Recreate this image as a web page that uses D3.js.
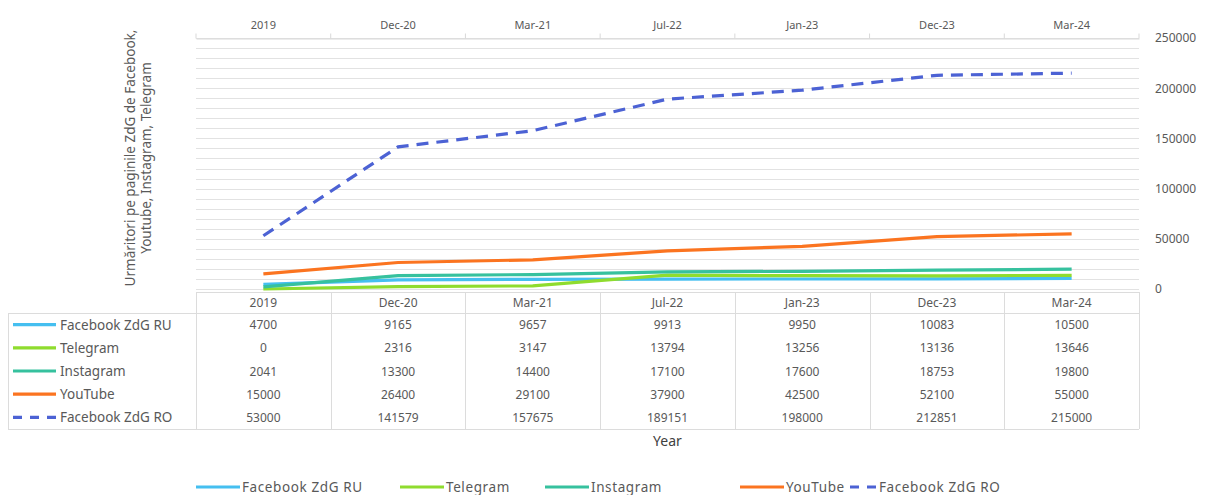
<!DOCTYPE html>
<html>
<head>
<meta charset="utf-8">
<script src="https://cdn.jsdelivr.net/npm/d3@7"></script>
<style>
	body { margin: 0; background: #fff; }
	text { font-family: 'Noto Sans', sans-serif; fill: #595959; }
</style>
</head>
<body>
<div id="chart"></div>
<script>
// data
const periods = ['2019', 'Dec-20', 'Mar-21', 'Jul-22', 'Jan-23', 'Dec-23', 'Mar-24'];
const seriesNames = ['Facebook ZdG RU', 'Telegram', 'Instagram', 'YouTube', 'Facebook ZdG RO'];
const facebookRU = [4700, 9165, 9657, 9913, 9950, 10083, 10500];
const telegram = [0, 2316, 3147, 13794, 13256, 13136, 13646];
const instagram = [2041, 13300, 14400, 17100, 17600, 18753, 19800];
const youtube = [15000, 26400, 29100, 37900, 42500, 52100, 55000];
const facebookRO = [53000, 141579, 157675, 189151, 198000, 212851, 215000];
const yTicks = [0, 50000, 100000, 150000, 200000, 250000];

const seriesValues = [facebookRU, telegram, instagram, youtube, facebookRO];
const colors = ['#45bff0', '#8fdc2e', '#36c19e', '#fb7420', '#4c62d4'];
const dashes = [null, null, null, null, '12,8'];

const svgWidth = 1209, svgHeight = 495;
const plot = { left: 196, right: 1139, top: 38, bottom: 289 };

let svg = d3.select('#chart').append('svg')
	.attr('width', svgWidth)
	.attr('height', svgHeight);

let x = d3.scaleBand()
	.domain(periods)
	.range([plot.left, plot.right]);

let y = d3.scaleLinear()
	.domain([0, 250000])
	.range([plot.bottom, plot.top]);

// gridlines every 10000
let grid = svg.append('g').classed('grid', true);
grid.selectAll('line')
	.data(d3.range(0, 250001, 10000))
	.enter()
	.append('line')
	.attr('x1', plot.left)
	.attr('x2', plot.right)
	.attr('y1', d => Math.round(y(d)) + 0.5)
	.attr('y2', d => Math.round(y(d)) + 0.5)
	.attr('stroke', '#e2e2e2')
	.attr('stroke-width', 1.2);

// top category axis
let axisTop = d3.axisTop(x).tickSize(0).tickPadding(10);
let gTop = svg.append('g')
	.attr('transform', `translate(0, ${plot.top + 0.5})`)
	.call(axisTop);
gTop.select('.domain').attr('stroke', '#d9d9d9');
gTop.selectAll('text')
	.style('font-size', '11px')
	.style('fill', '#595959')
	.style('font-family', "'Noto Sans', sans-serif");
gTop.selectAll('line.edge')
	.data(periods.concat(['end']))
	.enter()
	.append('line')
	.classed('edge', true)
	.attr('x1', (d, i) => i < periods.length ? x(d) : plot.right)
	.attr('x2', (d, i) => i < periods.length ? x(d) : plot.right)
	.attr('y1', 0)
	.attr('y2', -5)
	.attr('stroke', '#d9d9d9');

// right value axis
let axisRight = d3.axisRight(y).tickValues(yTicks).tickSize(0).tickPadding(16).tickFormat(d => d);
let gRight = svg.append('g')
	.attr('transform', `translate(${plot.right}, 0)`)
	.call(axisRight);
gRight.select('.domain').remove();
gRight.selectAll('text')
	.style('font-size', '12px')
	.style('fill', '#595959')
	.style('font-family', "'Noto Sans', sans-serif");

// y title
let yTitle = svg.append('text')
	.attr('transform', `translate(137, 158) rotate(-90)`)
	.attr('text-anchor', 'middle')
	.attr('font-size', '13.5px');
yTitle.append('tspan').attr('x', 0).attr('dy', '-0.15em').text('Urmăritori pe paginile ZdG de Facebook,');
yTitle.append('tspan').attr('x', 0).attr('dy', '1.2em').text('Youtube, Instagram, Telegram');

// lines
let line = d3.line()
	.x((d, i) => x(periods[i]) + x.bandwidth() / 2)
	.y(d => y(d));

svg.append('g').classed('lines', true)
	.selectAll('path')
	.data(seriesValues)
	.enter()
	.append('path')
	.attr('d', d => line(d))
	.attr('fill', 'none')
	.attr('stroke', (d, i) => colors[i])
	.attr('stroke-width', 3.2)
	.attr('stroke-dasharray', (d, i) => dashes[i]);

// data table
const tableTop = 292, headH = 21, rowH = 23.2;
const tableBottom = tableTop + headH + rowH * seriesNames.length;
let table = svg.append('g').classed('table', true);

let edges = periods.map(p => x(p)).concat([plot.right]);
table.selectAll('line.v')
	.data(edges)
	.enter()
	.append('line')
	.classed('v', true)
	.attr('x1', d => Math.round(d) + 0.5)
	.attr('x2', d => Math.round(d) + 0.5)
	.attr('y1', tableTop)
	.attr('y2', tableBottom)
	.attr('stroke', '#dcdcdc');

table.append('line')
	.attr('x1', plot.left).attr('x2', plot.right)
	.attr('y1', tableTop + 0.5).attr('y2', tableTop + 0.5)
	.attr('stroke', '#dcdcdc');
table.append('line')
	.attr('x1', 8).attr('x2', plot.right)
	.attr('y1', tableTop + headH + 0.5).attr('y2', tableTop + headH + 0.5)
	.attr('stroke', '#dcdcdc');
table.append('line')
	.attr('x1', 8).attr('x2', plot.right)
	.attr('y1', tableBottom + 0.5).attr('y2', tableBottom + 0.5)
	.attr('stroke', '#dcdcdc');
table.append('line')
	.attr('x1', 8.5).attr('x2', 8.5)
	.attr('y1', tableTop + headH).attr('y2', tableBottom)
	.attr('stroke', '#dcdcdc');

table.selectAll('text.head')
	.data(periods)
	.enter()
	.append('text')
	.classed('head', true)
	.attr('x', d => x(d) + x.bandwidth() / 2)
	.attr('y', tableTop + headH / 2 + 4.5)
	.attr('text-anchor', 'middle')
	.attr('font-size', '12px')
	.text(d => d);

let rows = table.selectAll('g.row')
	.data(seriesValues)
	.enter()
	.append('g')
	.classed('row', true)
	.attr('transform', (d, i) => `translate(0, ${tableTop + headH + rowH * i + rowH / 2})`);

rows.selectAll('text')
	.data(d => d)
	.enter()
	.append('text')
	.attr('x', (d, i) => x(periods[i]) + x.bandwidth() / 2)
	.attr('y', 4.5)
	.attr('text-anchor', 'middle')
	.attr('font-size', '12px')
	.text(d => d);

rows.append('line')
	.attr('x1', 13).attr('x2', 56)
	.attr('y1', 0).attr('y2', 0)
	.attr('stroke', (d, i) => colors[i])
	.attr('stroke-width', 3.2)
	.attr('stroke-dasharray', (d, i) => dashes[i] ? '9,8' : null);

rows.append('text')
	.attr('x', 60)
	.attr('y', 5)
	.attr('font-size', '13.5px')
	.text((d, i) => seriesNames[i]);

// x title
svg.append('text')
	.attr('x', (plot.left + plot.right) / 2)
	.attr('y', 446)
	.attr('text-anchor', 'middle')
	.attr('font-size', '14px')
	.style('fill', '#404040')
	.text('Year');

// bottom legend
const legendX = [196, 400, 545, 740, 850];
const legendLen = [44, 44, 44, 44, 27];
let legend = svg.selectAll('.legend')
	.data(seriesNames)
	.enter()
	.append('g')
	.attr('class', 'legend')
	.attr('transform', (d, i) => `translate(${legendX[i]}, 487)`);

legend.append('line')
	.attr('x1', 0).attr('x2', (d, i) => legendLen[i])
	.attr('y1', 0).attr('y2', 0)
	.attr('stroke', (d, i) => colors[i])
	.attr('stroke-width', 3.2)
	.attr('stroke-dasharray', (d, i) => dashes[i] ? '9,8' : null);

legend.append('text')
	.attr('x', (d, i) => legendLen[i] + 2)
	.attr('y', 4.5)
	.attr('font-size', '13.5px')
	.attr('letter-spacing', '0.6px')
	.text(d => d);
</script>
</body>
</html>
